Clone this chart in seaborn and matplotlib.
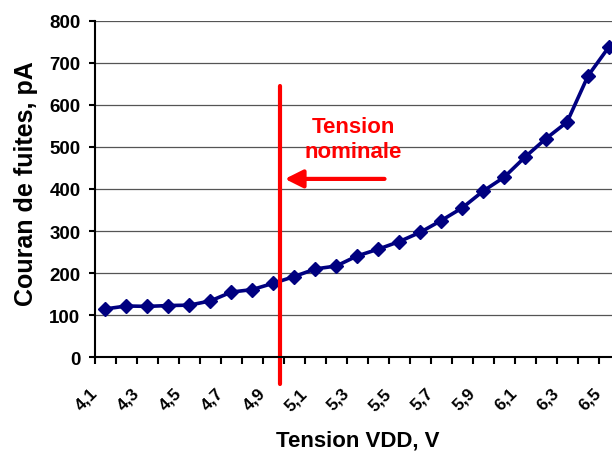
import numpy as np
import pandas as pd
import matplotlib
matplotlib.use("Agg")
import matplotlib.pyplot as plt
import matplotlib.transforms as mtransforms
import seaborn as sns

# DATA
tension = [4.1, 4.2, 4.3, 4.4, 4.5, 4.6, 4.7, 4.8, 4.9, 5.0, 5.1, 5.2, 5.3,
           5.4, 5.5, 5.6, 5.7, 5.8, 5.9, 6.0, 6.1, 6.2, 6.3, 6.4, 6.5]
courant = [115, 122, 121, 123, 124, 134, 155, 161, 176, 192, 210, 217, 241,
           257, 275, 297, 325, 355, 395, 428, 476, 520, 559, 669, 738]
x_ticks = tension[::2]
x_labels = ["4,1", "4,3", "4,5", "4,7", "4,9", "5,1", "5,3", "5,5", "5,7",
            "5,9", "6,1", "6,3", "6,5"]
y_ticks = [0, 100, 200, 300, 400, 500, 600, 700, 800]

# annotation: nominal voltage marker
nominal_x = 4.93
nominal_y = (-64, 645)
arrow_from = (5.43, 424)
arrow_to = (4.955, 424)
label_pos = (5.28, 519)

df = pd.DataFrame({"tension": tension, "courant": courant})

sns.set_style("ticks")
plt.rcParams['font.family'] = ['Liberation Sans', 'DejaVu Sans']
plt.rcParams['font.weight'] = 'bold'
for k in ["text.color", "axes.labelcolor", "xtick.color", "ytick.color"]:
    plt.rcParams[k] = "black"

fig = plt.figure(figsize=(6.12, 4.52), dpi=100)
ax = fig.add_axes([95/612, (452-358.3)/452, 524.5/612, (358.3-21.7)/452])

ax.yaxis.grid(True, color="#555555", lw=0.9)
ax.set_axisbelow(True)

sns.lineplot(data=df, x="tension", y="courant", ax=ax, color="#000080",
             lw=2.6, marker="D", markersize=7.5, markeredgecolor="#000080",
             markeredgewidth=1)

ax.set_xlim(4.05, 6.55)
ax.set_ylim(0, 800)

ax.set_xticks(x_ticks)
ax.set_xticklabels(x_labels, rotation=45, ha="right", fontsize=12.5, fontweight="bold")
ax.set_xticks(np.arange(4.05, 6.56, 0.1), minor=True)
ax.tick_params(axis="x", which="major", length=0, pad=20)
ax.tick_params(axis="x", which="minor", length=5, width=1.5, color="black", direction="out")
shift = mtransforms.ScaledTranslation(-5/100, 0, fig.dpi_scale_trans)
for lab in ax.get_xticklabels():
    lab.set_transform(lab.get_transform() + shift)

ax.set_yticks(y_ticks)
ax.set_yticklabels([str(v) for v in y_ticks], fontsize=13.5, fontweight="bold")
ax.tick_params(axis="y", length=4.5, width=1.5, color="black", pad=6)

for side in ["top", "right"]:
    ax.spines[side].set_visible(False)
for side in ["left", "bottom"]:
    ax.spines[side].set_linewidth(1.5)
    ax.spines[side].set_color("black")

ax.set_xlabel("Tension VDD, V", fontsize=16, fontweight="bold")
ax.set_ylabel("Couran de fuites, pA", fontsize=18, fontweight="bold")
ax.xaxis.set_label_coords(0.5, -0.214)
ax.yaxis.set_label_coords(-0.109, 0.518)

ax.plot([nominal_x, nominal_x], list(nominal_y), color="#ff0000", lw=3, clip_on=False)
ax.annotate("", xy=arrow_to, xytext=arrow_from,
            arrowprops=dict(arrowstyle="-|>,head_length=0.6,head_width=0.3",
                            color="#ff0000", lw=3, mutation_scale=18,
                            shrinkA=0, shrinkB=0))
ax.text(label_pos[0], label_pos[1], "Tension\nnominale", color="#ff0000",
        ha="center", va="center", fontsize=16, fontweight="bold", linespacing=1.3)

fig.savefig("out.png", dpi=100)
